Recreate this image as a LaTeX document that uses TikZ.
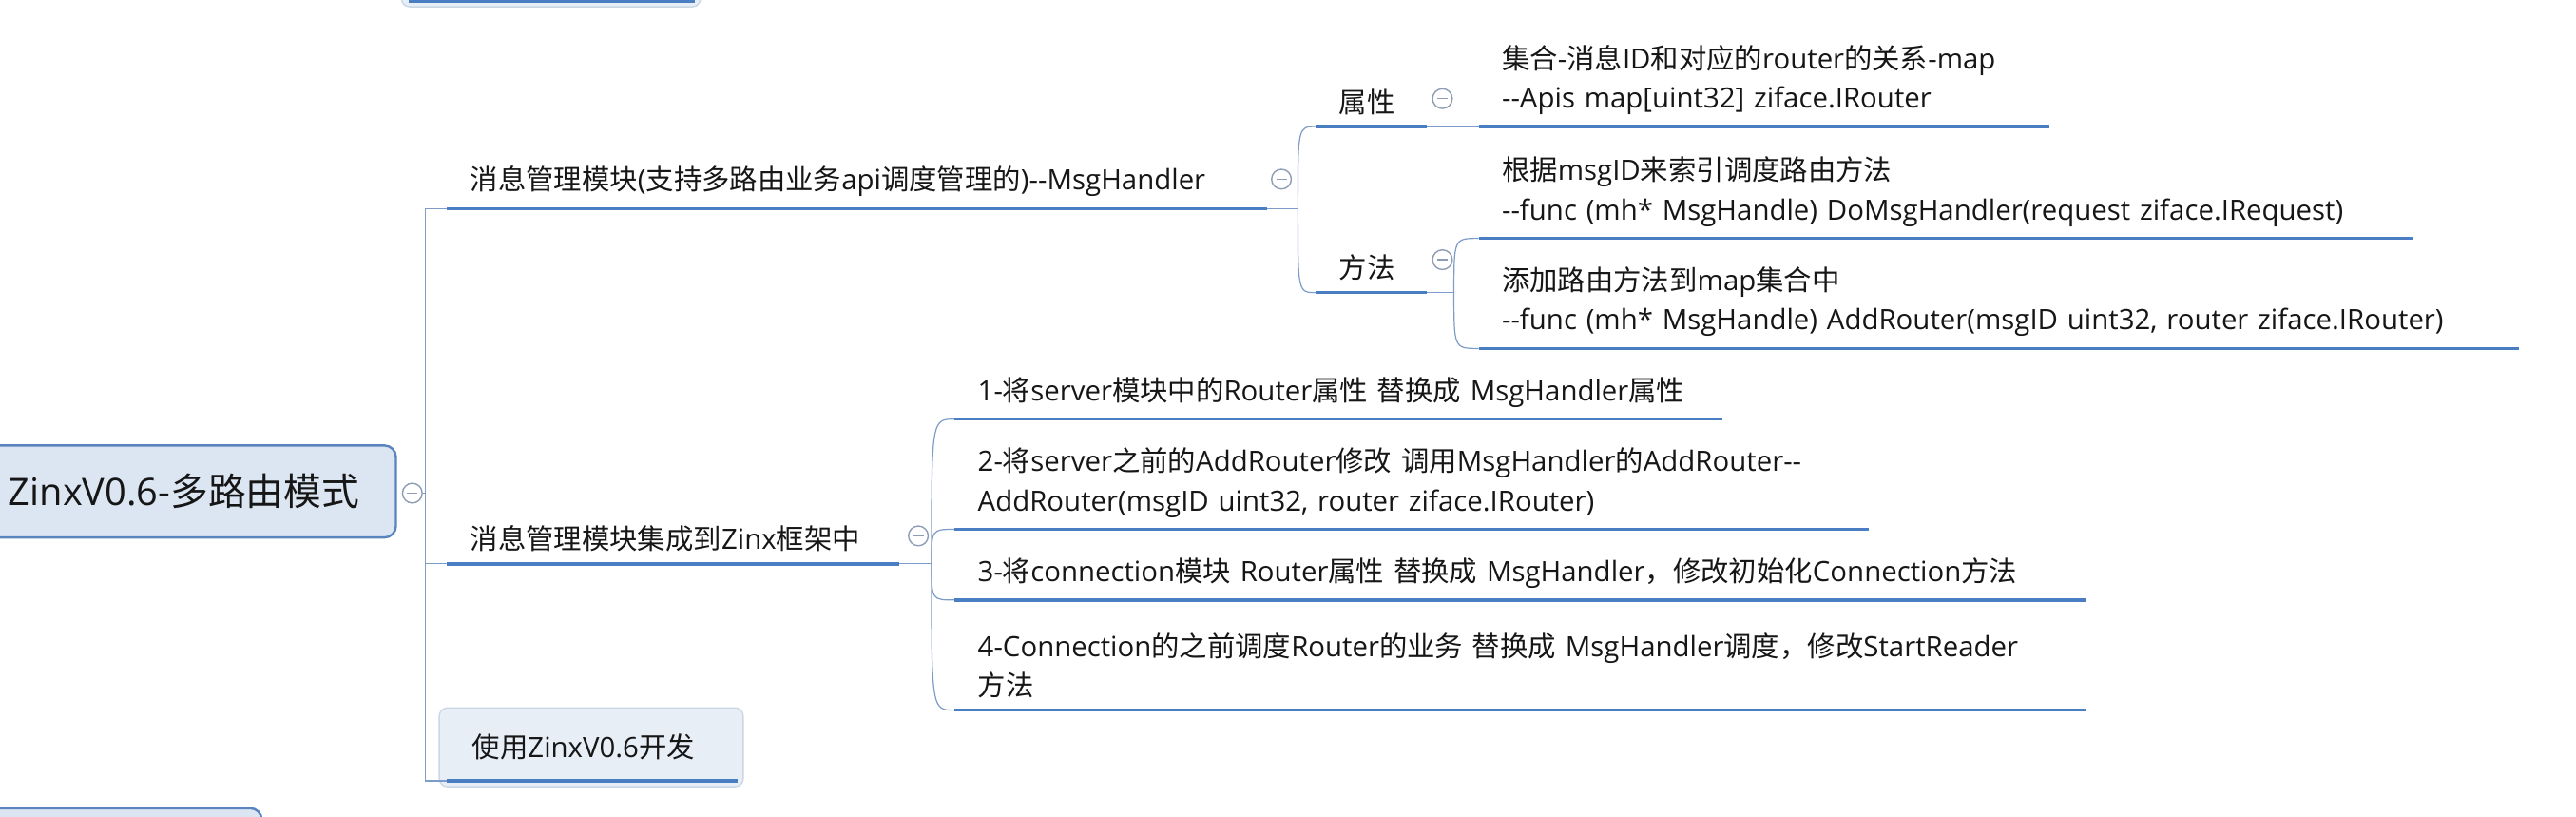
\documentclass[tikz,border=0pt]{standalone}
\usepackage{fontspec}
\setmainfont{Open Sans}[Ligatures=TeXOff]
\newfontfamily\zhfont{Noto Sans CJK SC}[Ligatures=TeXOff]
% every run of Han characters is set in the CJK face
\XeTeXinterchartokenstate=1
\chardef\zhclass=7
\newcount\zhcode
\zhcode="4E00
\loop
  \XeTeXcharclass\zhcode=\zhclass
  \advance\zhcode by 1
\ifnum\zhcode<"A000 \repeat
\XeTeXcharclass"FF0C=\zhclass
\XeTeXinterchartoks 0 \zhclass = {\begingroup\zhfont}
\XeTeXinterchartoks 1 \zhclass = {\begingroup\zhfont}
\XeTeXinterchartoks 2 \zhclass = {\begingroup\zhfont}
\XeTeXinterchartoks 3 \zhclass = {\begingroup\zhfont}
\XeTeXinterchartoks 4095 \zhclass = {\begingroup\zhfont}
\XeTeXinterchartoks \zhclass 0 = {\endgroup}
\XeTeXinterchartoks \zhclass 1 = {\endgroup}
\XeTeXinterchartoks \zhclass 2 = {\endgroup}
\XeTeXinterchartoks \zhclass 3 = {\endgroup}
\XeTeXinterchartoks \zhclass 4095 = {\endgroup}
\hyphenpenalty=10000
\exhyphenpenalty=10000
\usetikzlibrary{calc}
\definecolor{ulblue}{HTML}{4A7EC2}
\definecolor{lnblue}{HTML}{7E9CC8}
\definecolor{togline}{HTML}{8E9DB5}
\definecolor{rootfill}{HTML}{DCE6F2}
\definecolor{rootline}{HTML}{5A84BF}
\definecolor{cardfill}{HTML}{E8EEF6}
\definecolor{cardline}{HTML}{CCD7E5}
\definecolor{ink}{HTML}{161616}
\tikzstyle{root} = [draw=rootline, fill=rootfill, line width=1.4pt, rounded corners=7pt, text=ink, font=\fontsize{23}{28}\selectfont]
\tikzstyle{topic} = [anchor=south west, align=left, inner xsep=14pt, inner ysep=7pt, text=ink, font=\fontsize{17}{24}\selectfont]
\tikzstyle{card} = [topic, draw=cardline, fill=cardfill, line width=0.8pt, rounded corners=5pt, inner xsep=20pt, minimum height=48pt]
\tikzstyle{toggle} = [circle, draw=togline, fill=white, line width=0.8pt, minimum size=12pt, inner sep=0pt, path picture={\draw [togline, line width=0.8pt] ([xshift=-3.2pt]path picture bounding box.center) -- ([xshift=3.2pt]path picture bounding box.center);}]
\tikzstyle{uline} = [draw=ulblue, line width=2pt]
\tikzstyle{conn} = [draw=lnblue, line width=0.7pt]

\begin{document}
\begin{tikzpicture}[x=1pt, y=-1pt]
    \useasboundingbox (0,0) rectangle (1568,497);
    \fill [white] (0,0) rectangle (1568,497);
    \clip (0,0) rectangle (1568,497);

    % neighbours cut off by the frame
    \node [card, text width=142pt] (prev) at (244,4.5) {};
    \node [root, minimum width=220pt, minimum height=56pt, anchor=north east] (next) at (160,491) {};

    \node [root, minimum width=258pt, minimum height=56pt] (zinx) at (112,299) {ZinxV0.6-多路由模式};
    \node [toggle] (tzinx) at (251,300) {};
    \coordinate (fzinx) at (259,300);

    \node [topic, text width=471pt] (msg) at (272,127) {消息管理模块(支持多路由业务api调度管理的)--MsgHandler};
    \node [topic, text width=247pt] (integ) at (272,343) {消息管理模块集成到Zinx框架中};
    \node [card, text width=145pt] (dev) at (267,479) {使用ZinxV0.6开发};
    \coordinate (devu) at ($(dev.south west)+(5,-4)$);
    \coordinate (prevu) at ($(prev.south west)+(5,-4)$);

    \node [toggle] (tmsg) at (780,109) {};
    \coordinate (fmsg) at (790,127);
    \node [topic, text width=39pt] (attr) at (801,77) {属性};
    \node [topic, text width=39pt] (meth) at (801,178) {方法};
    \node [toggle] (tattr) at (878,60) {};
    \node [toggle] (tmeth) at (878,158) {};
    \coordinate (fmeth) at (885,178);
    \node [topic, text width=319pt] (apis) at (900,77) {集合-消息ID和对应的router的关系-map\\--Apis~map[uint32]~ziface.IRouter};
    \node [topic, text width=540pt] (domsg) at (900,145) {根据msgID来索引调度路由方法\\--func~(mh*~MsgHandle)~DoMsgHandler(request~ziface.IRequest)};
    \node [topic, text width=605pt] (addr) at (900,212) {添加路由方法到map集合中\\--func~(mh*~MsgHandle)~AddRouter(msgID~uint32,~router~ziface.IRouter)};

    \node [toggle] (tinteg) at (559,326) {};
    \coordinate (finteg) at (567,343);
    \node [topic, text width=439pt] (step1) at (581,255) {1-将server模块中的Router属性~替换成~MsgHandler属性};
    \node [topic, text width=528pt] (step2) at (581,322) {2-将server之前的AddRouter修改~调用MsgHandler的AddRouter--\\AddRouter(msgID~uint32,~router~ziface.IRouter)};
    \node [topic, text width=660pt] (step3) at (581,365) {3-将connection模块~Router属性~替换成~MsgHandler，修改初始化Connection方法};
    \node [topic, text width=660pt] (step4) at (581,432) {4-Connection的之前调度Router的业务~替换成~MsgHandler调度，修改StartReader\\方法};

    \draw [conn] (tzinx.east) -- (fzinx);
    \foreach \n in {msg,integ} \draw [conn] (fzinx) |- (\n.south west);
    \draw [conn] (fzinx) |- (devu);
    \draw [conn] (msg.south east) -- (fmsg);
    \foreach \n in {attr,meth} \draw [conn] (fmsg) .. controls (fmsg |- \n.south west) .. (\n.south west);
    \draw [conn] (attr.south east) -- (apis.south west);
    \draw [conn] (meth.south east) -- (fmeth);
    \foreach \n in {domsg,addr} \draw [conn] (fmeth) .. controls (fmeth |- \n.south west) .. (\n.south west);
    \draw [conn] (integ.south east) -- (finteg);
    \foreach \n in {step1,step2,step3,step4} \draw [conn] (finteg) .. controls (finteg |- \n.south west) .. (\n.south west);

    \foreach \n in {msg,integ,attr,meth,apis,domsg,addr,step1,step2,step3,step4} \draw [uline] (\n.south west) -- (\n.south east);
    \draw [uline] (devu) -- ($(dev.south east)+(-4,-4)$);
    \draw [uline] (prevu) -- ($(prev.south east)+(-4,-4)$);
\end{tikzpicture}
\end{document}
